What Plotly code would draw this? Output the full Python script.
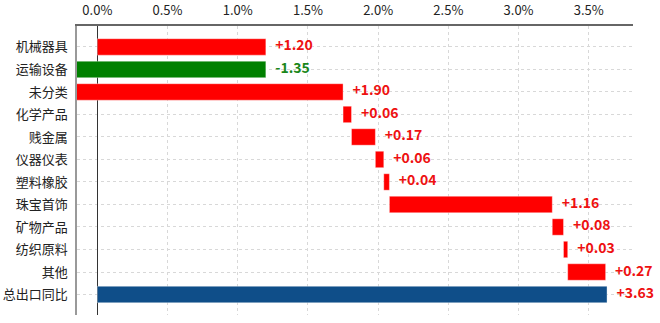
import plotly.graph_objects as go

categories = ["机械器具", "运输设备", "未分类", "化学产品", "贱金属", "仪器仪表",
              "塑料橡胶", "珠宝首饰", "矿物产品", "纺织原料", "其他", "总出口同比"]
values = [1.20, -1.35, 1.90, 0.06, 0.17, 0.06, 0.04, 1.16, 0.08, 0.03, 0.27, 3.63]
is_total = [False] * 11 + [True]
tick_vals = [0, 0.5, 1.0, 1.5, 2.0, 2.5, 3.0, 3.5]
tick_text = ["0.0%", "0.5%", "1.0%", "1.5%", "2.0%", "2.5%", "3.0%", "3.5%"]

RED = "#FF0000"
GREEN = "#008000"
BLUE = "#0F4E89"
LBL_RED = "#EE1111"
LBL_GREEN = "#1A871A"

bases, ends, colors, lcolors, texts = [], [], [], [], []
cum = 0.0
for v, t in zip(values, is_total):
    if t:
        bases.append(0.0)
        ends.append(v)
        colors.append(BLUE)
        lcolors.append(LBL_RED)
    else:
        bases.append(cum)
        cum += v
        ends.append(max(bases[-1], cum))
        colors.append(RED if v >= 0 else GREEN)
        lcolors.append(LBL_RED if v >= 0 else LBL_GREEN)
    texts.append(("+" if v >= 0 else "") + f"{v:.2f}")

fig = go.Figure()
fig.add_trace(go.Bar(
    y=categories, x=values, base=bases, orientation="h",
    marker=dict(color=colors, line=dict(width=0.6, color="rgba(255,255,255,0.6)")),
    width=0.73, showlegend=False, hoverinfo="skip",
))
fig.add_trace(go.Scatter(
    y=categories, x=ends, mode="text", text=texts,
    textposition="middle right",
    textfont=dict(color=lcolors, size=14, family="Noto Sans CJK SC"),
    texttemplate="   <b>%{text}</b>", showlegend=False, hoverinfo="skip", cliponaxis=False,
))

fig.update_layout(
    width=660, height=323,
    margin=dict(l=77, r=27, t=26, b=8, autoexpand=False),
    paper_bgcolor="white", plot_bgcolor="white",
    font=dict(family="Noto Sans CJK SC", size=13, color="#222"),
)
fig.update_xaxes(
    side="top", range=[-0.145, 3.815], automargin=False,
    tickvals=tick_vals, ticktext=tick_text,
    showgrid=True, gridcolor="#D8D8D8", griddash="dot", gridwidth=1,
    zeroline=True, zerolinecolor="#333333", zerolinewidth=1,
    showline=True, linecolor="#666666", linewidth=1.5,
    ticks="", ticklabelstandoff=4, tickfont=dict(size=13, color="#222"),
)
fig.update_yaxes(
    type="category", categoryorder="array", categoryarray=categories,
    range=[11.91, -0.93], automargin=False,
    showgrid=True, gridcolor="#D8D8D8", griddash="dot", gridwidth=1,
    showline=True, linecolor="#999999", linewidth=1.5,
    ticks="", ticklabelstandoff=5, tickfont=dict(size=13, color="#222"),
)

fig.write_html("out.html")
